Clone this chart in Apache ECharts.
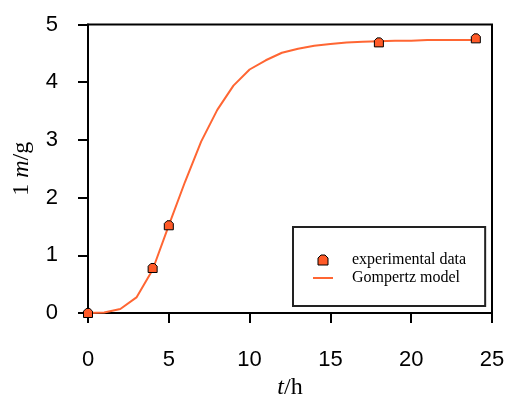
<!DOCTYPE html>
<html><head><meta charset="utf-8">
<script src="https://cdn.jsdelivr.net/npm/echarts@6/dist/echarts.min.js"></script>
<style>html,body{margin:0;padding:0;background:#fff}#c{width:508px;height:397px}</style>
</head><body><div id="c"></div>
<script>
const expT = [0, 4, 5, 18, 24];
const expM = [0.0, 0.78, 1.52, 4.69, 4.76];
const modelT = [0,1,2,3,4,5,6,7,8,9,10,11,12,13,14,15,16,17,18,19,20,21,22,23,24];
const modelM = [0,0.01,0.07,0.27,0.75,1.52,2.27,2.97,3.52,3.94,4.22,4.38,4.51,4.58,4.63,4.66,4.69,4.70,4.71,4.72,4.72,4.73,4.73,4.73,4.73];
const xTicks = [0,5,10,15,20,25];
const yTicks = [0,1,2,3,4,5];

const chart = echarts.init(document.getElementById('c'), null, {renderer:'canvas'});
const marker = 'path://M0,3 L3,0 L7,0 L10,3 L10,10 L0,10 Z';
const lineIcon = 'path://M0,0 L20,0 L20,2 L0,2 Z';
chart.setOption({
  animation:false,
  backgroundColor:'#fff',
  grid:{left:88, right:16, top:24.5, bottom:84, outerBoundsMode:'none', containLabel:false,
    show:true, borderColor:'#000', borderWidth:2, backgroundColor:'transparent'},
  xAxis:{type:'value', min:xTicks[0], max:xTicks[xTicks.length-1], interval:5,
    axisLine:{lineStyle:{color:'#000', width:2}},
    axisTick:{show:true, inside:false, length:10, lineStyle:{color:'#000', width:2}},
    splitLine:{show:false},
    axisLabel:{color:'#000', fontFamily:'Liberation Sans', fontSize:22, margin:36},
    name:'{i|t}{n|/h}', nameLocation:'middle', nameGap:58,
    nameTextStyle:{rich:{i:{fontFamily:'Liberation Serif', fontStyle:'italic', fontSize:24, color:'#000'}, n:{fontFamily:'Liberation Serif', fontSize:24, color:'#000'}}}
  },
  yAxis:{type:'value', min:yTicks[0], max:yTicks[yTicks.length-1], interval:1,
    axisLine:{lineStyle:{color:'#000', width:2}},
    axisTick:{show:true, inside:false, length:10, lineStyle:{color:'#000', width:2}},
    splitLine:{show:false},
    axisLabel:{color:'#000', fontFamily:'Liberation Sans', fontSize:22, margin:30},
    name:'{n|1 }{i|m}{n|/g}', nameLocation:'middle', nameGap:54,
    nameTextStyle:{rich:{i:{fontFamily:'Liberation Serif', fontStyle:'italic', fontSize:24, color:'#000'}, n:{fontFamily:'Liberation Serif', fontSize:24, color:'#000'}}}
  },
  legend:{orient:'vertical', left:293, top:227, itemWidth:20, itemHeight:10, itemGap:0,
    padding:[24,19,19,20], borderColor:'#222', borderWidth:2,
    textStyle:{fontFamily:'Liberation Serif', fontSize:16, lineHeight:18, color:'#000', padding:[0,0,0,14]},
    data:[{name:'experimental data', icon:marker, itemStyle:{color:'#ff5a28', borderColor:'#000', borderWidth:1}},
          {name:'Gompertz model', icon:lineIcon, itemStyle:{color:'#ff6633'}}]
  },
  series:[
    {name:'Gompertz model', type:'line', data:modelT.map((t,i)=>[t,modelM[i]]), symbol:'none',
     lineStyle:{color:'#ff6633', width:2}, itemStyle:{color:'#ff6633'}, z:2},
    {name:'experimental data', type:'scatter', data:expT.map((t,i)=>[t,expM[i]]), symbol:marker, symbolSize:9,
     itemStyle:{color:'#ff5a28', borderColor:'#000', borderWidth:1, opacity:1}, z:3}
  ]
});
</script></body></html>
